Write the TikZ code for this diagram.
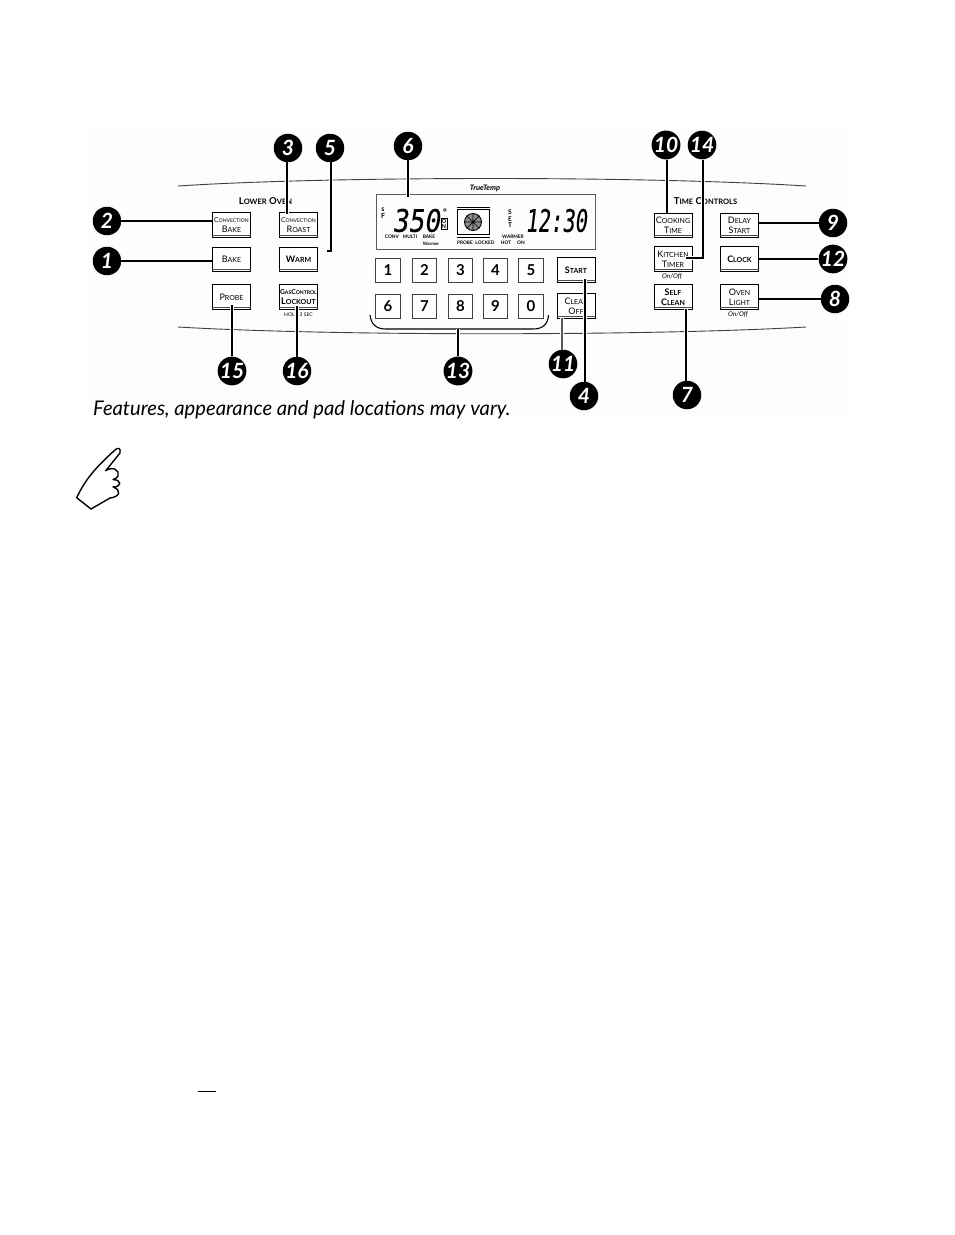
\documentclass[tikz,border=0pt]{standalone}
\usepackage{graphicx}
\usepackage{fontspec}
\setmainfont{Lato}
\newfontfamily\capfont{Lato}
\newfontfamily\segfont[FakeSlant=0.18,FakeBold=0.3]{DejaVu Sans Mono}
\newcommand{\fs}[1]{\fontsize{#1}{#1}\selectfont}
\newcommand{\cp}[2]{{\fs{9}#1}{\fs{7}#2}}
\newcommand{\cq}[2]{{\fs{6.7}#1}{\fs{5.1}#2}}
\tikzset{
  pad/.style={draw=black,line width=0.7pt,fill=white,minimum width=38pt,minimum height=24.5pt,inner sep=0pt,align=center,text=black,font=\fs{10}},
  key/.style={draw=black!75,line width=0.8pt,fill=white,minimum width=24.5pt,minimum height=24pt,inner sep=0pt,font=\capfont\bfseries\fs{15}},
  num/.style={circle,fill=black,text=white,minimum size=28.5pt,inner sep=0pt,font=\capfont\bfseries\itshape\fs{21}},
  lead/.style={line width=1.3pt,draw=black,preaction={draw=white,line width=3.4pt}},
  arcline/.style={line width=0.9pt,draw=black!75},
  tiny/.style={inner sep=0pt,text=black,font=\fs{4.8}\bfseries},
}
\begin{document}
\begin{tikzpicture}[x=1pt,y=-1pt]
\useasboundingbox (0,0) rectangle (954,1235);
\fill[black!0.6] (90,130) rectangle (850,415);
% arcs
\draw[arcline] (178,186) .. controls (330,176) and (650,176) .. (806,186);
\draw[arcline] (178,327) .. controls (330,336) and (650,336) .. (806,327);
% headings
\node[inner sep=0pt,text=black] (hlow) at (265.5,201) {\bfseries{\fs{9.5}L}{\fs{7.5}OWER} {\fs{9.5}O}{\fs{7.5}VEN}};
\node[inner sep=0pt,text=black] (htime) at (705.5,201) {\bfseries{\fs{9.5}T}{\fs{7.5}IME} {\fs{9.5}C}{\fs{7.5}ONTROLS}};
\node[inner sep=0pt,text=black,font=\itshape\bfseries\fs{7.5}] (tt) at (485,188) {TrueTemp};
% pads
\node[pad,font=\fs{9.5}] (cbake) at (231.5,225) {\cq{C}{ONVECTION}\\\cp{B}{AKE}};
\node[pad] (bake) at (231.5,259.5) {\cp{B}{AKE}};
\node[pad] (probe) at (231.5,297) {\cp{P}{ROBE}};
\node[pad,font=\fs{9.5}] (croast) at (298.5,225) {\cq{C}{ONVECTION}\\\cp{R}{OAST}};
\node[pad] (warm) at (298.5,259.5) {\bfseries\cp{W}{ARM}};
\node[pad,font=\fs{9.5}\bfseries] (gas) at (298.5,297) {\cq{G}{AS}\cq{C}{ONTROL}\\\cp{L}{OCKOUT}};
\node[inner sep=0pt,font=\fs{5}] (hold) at (298.5,315) {HOLD 3 SEC};
\node[pad] (start) at (576,270) {\bfseries\cp{S}{TART}};
\node[pad] (clear) at (576,306) {\cp{C}{LEAR}\\\cp{O}{FF}};
\node[pad] (cook) at (673,225.5) {\cp{C}{OOKING}\\\cp{T}{IME}};
\node[pad] (kitchen) at (673,259) {\cp{K}{ITCHEN}\\\cp{T}{IMER}};
\node[pad,font=\fs{10}\bfseries] (self) at (673,297) {\cp{S}{ELF}\\\cp{C}{LEAN}};
\node[pad] (delay) at (739.5,225.5) {\cp{D}{ELAY}\\\cp{S}{TART}};
\node[pad] (clock) at (739.5,259) {\bfseries\cp{C}{LOCK}};
\node[pad] (light) at (739.5,297) {\cp{O}{VEN}\\\cp{L}{IGHT}};
\node[inner sep=0pt,font=\itshape\fs{6.5}] (onoffa) at (672,277) {On/Off};
\node[inner sep=0pt,font=\itshape\fs{6.5}] (onoffb) at (738,315) {On/Off};
% pad double bottom rules
\foreach \n in {cbake,bake,probe,croast,warm,gas,start,clear,cook,kitchen,self,delay,clock,light}
  \draw[line width=0.5pt,black!70] ([yshift=2.5pt]\n.south west) -- ([yshift=2.5pt]\n.south east);
% keypad
\foreach \d/\x/\y/\nm in {1/388/270/ka,2/424.5/270/kb,3/460.5/270/kc,4/495.5/270/kd,5/531/270/ke,6/388/306/kf,7/424.5/306/kg,8/460.5/306/kh,9/495.5/306/ki,0/531/306/kj}
  \node[key] (\nm) at (\x,\y) {\d};
% display
\node[draw=black!65,line width=0.8pt,minimum width=219pt,minimum height=55pt,inner sep=0pt] (disp) at (485.5,221.5) {};
\node[inner sep=0pt,font=\segfont\fs{31}] (t350) at (416,220.5) {\scalebox{0.85}[1]{350}};
\node[inner sep=0pt,font=\segfont\fs{31}] (t1230) at (556,220.5) {\scalebox{0.66}[1]{12:30}};
\node[inner sep=0pt,font=\fs{7}\bfseries,align=center] (sf) at (383,213) {s\\F};
\node[inner sep=0pt,font=\fs{9}\bfseries] (deg) at (445,212) {°};
\node[draw=black,line width=0.5pt,inner sep=0.8pt,font=\fs{5.5}\bfseries,align=center] (on) at (444,224) {O\\N};
\node[inner sep=0pt,font=\fs{6.5}\bfseries,align=center] (set) at (510,219) {S\\E\\T};
\node[draw=black,line width=1pt,minimum width=32pt,minimum height=25pt,inner sep=0pt] (oven) at (473,222) {};
\draw[line width=0.5pt,black] ([yshift=2pt]oven.north west) -- ([yshift=2pt]oven.north east) ([yshift=-2pt]oven.south west) -- ([yshift=-2pt]oven.south east);
\node[circle,draw=black,fill=black!45,line width=0.9pt,minimum size=17pt,inner sep=0pt] (fan) at (473,222) {};
\draw[black,line width=0.7pt] (fan.north) -- (fan.south) (fan.east) -- (fan.west) (fan.north east) -- (fan.south west) (fan.north west) -- (fan.south east);
\node[tiny] (conv) at (392,237) {CONV};
\node[tiny] (multi) at (410,237) {MULTI};
\node[tiny] (bk) at (429,237) {BAKE};
\node[tiny,font=\fs{4.5}\bfseries] (wrm) at (431,243.5) {Warmer};
\node[tiny] (prb) at (465,243) {PROBE};
\node[tiny] (lck) at (485,243) {LOCKED};
\node[tiny] (wrn) at (513,237) {WARMER};
\node[tiny] (hot) at (506,243) {HOT};
\node[tiny] (ono) at (521,243) {ON};
% brace
\coordinate (brl) at (370,315);
\coordinate (brr) at (548.5,315);
\coordinate (brm) at (458,329);
\draw[line width=1.1pt] (brl) .. controls (371,324) and (376,329) .. (386,329) -- (533,329) .. controls (543,329) and (548,324) .. (brr);
% badges
\node[num] (n2) at (107,221) {2};
\node[num] (n1) at (107,261) {1};
\node[num] (n3) at (288,148) {3};
\node[num] (n5) at (330,148) {5};
\node[num] (n15) at (232,371) {15};
\node[num] (n16) at (297,371) {16};
\node[num] (n6) at (408,146) {6};
\node[num] (n13) at (458,371) {13};
\node[num] (n11) at (563,364) {11};
\node[num] (n4) at (584,396) {4};
\node[num] (n10) at (666,145) {10};
\node[num] (n14) at (702,145) {14};
\node[num] (n9) at (833,223) {9};
\node[num] (n12) at (833,259) {12};
\node[num] (n8) at (835,299) {8};
\node[num] (n7) at (687,395) {7};
% connectors
\coordinate (e3) at (287,214);
\coordinate (e5) at (327,251);
\coordinate (e15) at (232,305);
\coordinate (e16) at (297,306);
\coordinate (e6) at (408,197);
\coordinate (e4) at (585,279);
\coordinate (e10) at (667,213);
\coordinate (e14) at (686,258);
\coordinate (e7) at (686,309);
\coordinate (e11) at (562,318);
\draw[lead] (n2.east) -- (cbake.west |- n2.east);
\draw[lead] (n1.east) -- (bake.west |- n1.east);
\draw[lead] (n3.south -| e3) -- (e3);
\draw[lead] (n5.south -| 331,0) |- (e5);
\draw[lead] (n15.north -| e15) -- (e15);
\draw[lead] (n16.north -| e16) -- (e16);
\draw[lead] (n6.south) -- (e6);
\draw[lead] (n13.north) -- (brm);
\draw[lead,draw=black!65] (n11.north -| e11) -- (e11);
\draw[lead] (n4.north -| e4) -- (e4);
\draw[lead] (n10.south -| e10) -- (e10);
\draw[lead] (n14.south -| 703,0) |- (e14);
\draw[lead] (n7.north -| e7) -- (e7);
\draw[lead] (n9.west) -- (delay.east |- n9.west);
\draw[lead] (n12.west) -- (clock.east |- n12.west);
\draw[lead] (n8.west) -- (light.east |- n8.west);
% caption
\node[anchor=west,inner sep=0pt,text=black,font=\capfont\itshape\fs{20.2}] (cap) at (93,410) {Features, appearance and pad locations may vary.};
% hand
\draw[line width=1.4pt,line join=round,line cap=round,fill=white] (76.7,497.7) .. controls (85,480) and (95,468) .. (115,450) .. controls (118,447) and (121,448) .. (120,453) -- (105.7,470.7) .. controls (113,466) and (120,470) .. (118,476) .. controls (117,478) and (115,479) .. (113,479.5) .. controls (122,480) and (122,487) .. (113,487) .. controls (122,490) and (120,497) .. (110,498) -- (91,509) -- cycle;
% stray rule
\draw[line width=0.8pt] (198,1091) -- (216,1091);
\end{tikzpicture}
\end{document}
